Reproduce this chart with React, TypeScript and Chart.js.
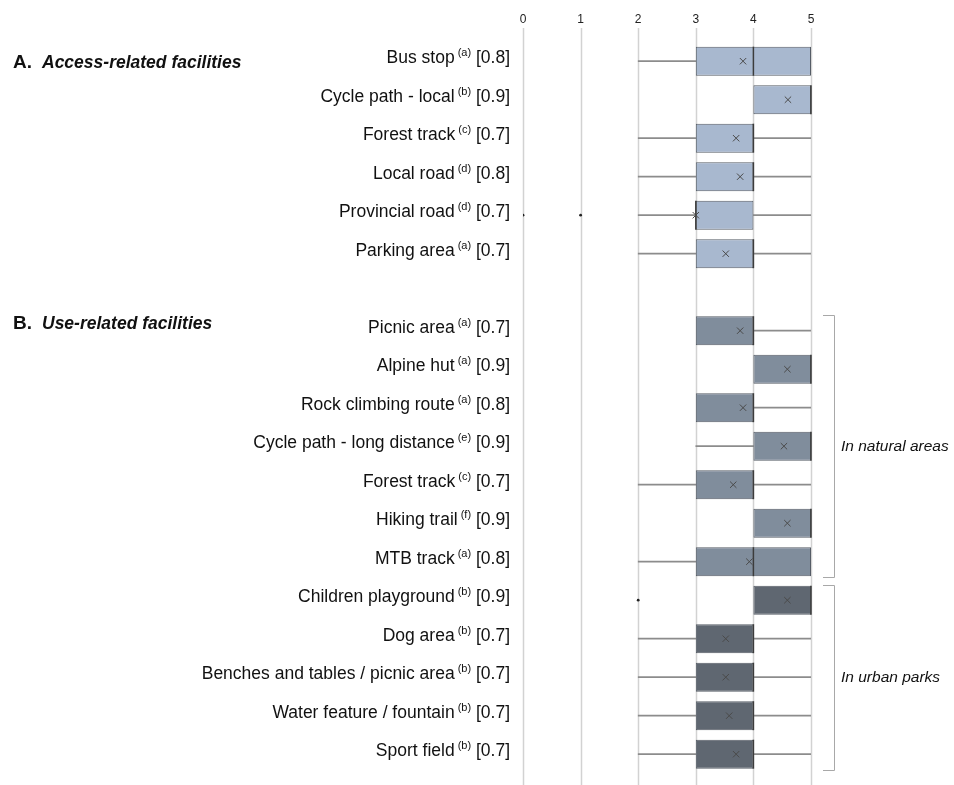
import React, { useEffect, useRef } from "react";
import { Chart, registerables } from "chart.js";
Chart.register(...registerables);

// ---- data ----
const facilityNames = [
  "Bus stop", "Cycle path - local", "Forest track", "Local road", "Provincial road", "Parking area", "",
  "Picnic area", "Alpine hut", "Rock climbing route", "Cycle path - long distance", "Forest track",
  "Hiking trail", "MTB track", "Children playground", "Dog area", "Benches and tables / picnic area",
  "Water feature / fountain", "Sport field",
];
const sourceRefs = ["(a)", "(b)", "(c)", "(d)", "(d)", "(a)", "", "(a)", "(a)", "(a)", "(e)", "(c)", "(f)", "(a)", "(b)", "(b)", "(b)", "(b)", "(b)"];
const reliability = ["[0.8]", "[0.9]", "[0.7]", "[0.8]", "[0.7]", "[0.7]", "", "[0.7]", "[0.9]", "[0.8]", "[0.9]", "[0.7]", "[0.9]", "[0.8]", "[0.9]", "[0.7]", "[0.7]", "[0.7]", "[0.7]"];
const rowGroup = ["access", "access", "access", "access", "access", "access", "", "natural", "natural", "natural", "natural", "natural", "natural", "natural", "urban", "urban", "urban", "urban", "urban"];

const whiskerLow = [2, 4, 2, 2, 2, 2, null, 3, 4, 3, 3, 2, 4, 2, 4, 2, 2, 2, 2];
const quartile1 = [3, 4, 3, 3, 3, 3, null, 3, 4, 3, 4, 3, 4, 3, 4, 3, 3, 3, 3];
const medians = [4, 5, 4, 4, 3, 4, null, 4, 5, 4, 5, 4, 5, 4, 5, 4, 4, 4, 4];
const quartile3 = [5, 5, 4, 4, 4, 4, null, 4, 5, 4, 5, 4, 5, 5, 5, 4, 4, 4, 4];
const whiskerHigh = [5, 5, 5, 5, 5, 5, null, 5, 5, 5, 5, 5, 5, 5, 5, 5, 5, 5, 5];
const means = [3.82, 4.6, 3.7, 3.77, 3.0, 3.52, null, 3.77, 4.59, 3.82, 4.53, 3.65, 4.59, 3.93, 4.59, 3.52, 3.52, 3.58, 3.7];
const outlierRows = [4, 4, 14];
const outlierValues = [0, 1, 2];

const xTicks = [0, 1, 2, 3, 4, 5];
const sectionHeaders = [
  { row: 0, letter: "A.", title: "Access-related facilities", dy: 2 },
  { row: 7, letter: "B.", title: "Use-related facilities", dy: -7 },
];
const brackets = [
  { from: 7, to: 13, text: "In natural areas" },
  { from: 14, to: 18, text: "In urban parks" },
];

const groupColors: Record<string, string> = {
  access: "#a8b8cf",
  natural: "#808d9c",
  urban: "#5f6771",
  "": "transparent",
};

const FONT = '"Liberation Sans", Arial, sans-serif';

export default function App() {
  const ref = useRef<HTMLCanvasElement | null>(null);

  useEffect(() => {
    if (!ref.current) return;
    const labels = facilityNames.map((n, i) => `${i}: ${n} ${sourceRefs[i]} ${reliability[i]}`);

    const lowerW = whiskerLow.map((v, i) => (v != null && quartile1[i] != null && v < (quartile1[i] as number) ? [v, quartile1[i]] : null));
    const upperW = whiskerHigh.map((v, i) => (v != null && quartile3[i] != null && v > (quartile3[i] as number) ? [quartile3[i], v] : null));
    const boxes = quartile1.map((v, i) => (v != null ? [v, quartile3[i]] : null));

    const overlay = {
      id: "overlay",
      beforeDatasetsDraw(chart: any) {
        const { ctx, scales } = chart;
        const x = scales.x;
        ctx.save();
        ctx.strokeStyle = "#d2d2d2";
        ctx.lineWidth = 1.5;
        xTicks.forEach((t) => {
          const px = Math.round(x.getPixelForValue(t)) + 0.5;
          ctx.beginPath();
          ctx.moveTo(px, 28);
          ctx.lineTo(px, chart.height);
          ctx.stroke();
        });
        ctx.restore();
      },
      afterDatasetDraw(chart: any, args: any) {
        if (args.index !== 3) return;
        const { ctx, scales } = chart;
        const meta = chart.getDatasetMeta(3);
        ctx.save();
        ctx.strokeStyle = "#3c3c3c";
        ctx.lineWidth = 1.5;
        medians.forEach((m, i) => {
          if (m == null) return;
          const bar = meta.data[i];
          if (!bar) return;
          const h = bar.height;
          const px = scales.x.getPixelForValue(m);
          const py = scales.y.getPixelForValue(i);
          ctx.beginPath();
          ctx.moveTo(px, py - h / 2);
          ctx.lineTo(px, py + h / 2);
          ctx.stroke();
        });
        ctx.restore();
      },
      afterDraw(chart: any) {
        const { ctx, scales } = chart;
        const y = scales.y;
        const band = Math.abs(y.getPixelForValue(1) - y.getPixelForValue(0));
        ctx.save();
        ctx.fillStyle = "#111";
        ctx.textBaseline = "middle";
        const rightX = 510;
        facilityNames.forEach((name, i) => {
          if (!name) return;
          const py = y.getPixelForValue(i) - 3;
          ctx.font = `17.5px ${FONT}`;
          ctx.textAlign = "right";
          ctx.fillText(reliability[i], rightX, py);
          const w1 = ctx.measureText(reliability[i] + " ").width;
          ctx.font = `11px ${FONT}`;
          const supX = rightX - w1;
          ctx.fillText(sourceRefs[i], supX, py - 5);
          const w2 = ctx.measureText(sourceRefs[i]).width;
          ctx.font = `17.5px ${FONT}`;
          ctx.fillText(name, supX - w2 - 3, py);
        });
        // section headers
        sectionHeaders.forEach((h) => {
          const py = y.getPixelForValue(h.row) + h.dy;
          ctx.textAlign = "left";
          ctx.font = `bold 19px ${FONT}`;
          ctx.fillText(h.letter, 13, py);
          ctx.font = `italic bold 17.5px ${FONT}`;
          ctx.fillText(h.title, 42, py);
        });
        // brackets
        ctx.strokeStyle = "#a8a8a8";
        ctx.lineWidth = 1;
        brackets.forEach((b) => {
          const top = Math.round(y.getPixelForValue(b.from) - band * 0.4) + 0.5;
          const bot = Math.round(y.getPixelForValue(b.to) + band * 0.4) + 0.5;
          const bx = 834.5;
          ctx.beginPath();
          ctx.moveTo(823, top);
          ctx.lineTo(bx, top);
          ctx.lineTo(bx, bot);
          ctx.lineTo(823, bot);
          ctx.stroke();
          ctx.font = `italic 15.5px ${FONT}`;
          ctx.textAlign = "left";
          ctx.fillStyle = "#111";
          ctx.fillText(b.text, 841, (top + bot) / 2);
        });
        ctx.restore();
      },
    };

    const chart = new Chart(ref.current, {
      type: "bar",
      data: {
        labels,
        datasets: [
          {
            type: "line",
            label: "Mean",
            indexAxis: "y",
            data: means as any,
            showLine: false,
            pointStyle: "crossRot",
            pointRadius: 4.5,
            pointBorderColor: "#4a4a4a",
            pointBorderWidth: 1,
            borderColor: "#4a4a4a",
            order: 0,
          } as any,
          {
            type: "line",
            label: "Outliers",
            indexAxis: "y",
            data: outlierRows.map((r, k) => ({ x: outlierValues[k], y: labels[r] })) as any,
            showLine: false,
            pointStyle: "circle",
            pointRadius: 1.4,
            pointBackgroundColor: "#222",
            pointBorderWidth: 0,
            order: 1,
          } as any,
          {
            label: "Lower whisker",
            data: lowerW as any,
            backgroundColor: "#8c8c8c",
            barThickness: 1,
            grouped: false,
            order: 3,
          } as any,
          {
            label: "Box",
            data: boxes as any,
            backgroundColor: rowGroup.map((g) => groupColors[g]),
            borderColor: "#555c66",
            borderWidth: 1,
            borderSkipped: false,
            categoryPercentage: 1,
            barPercentage: 0.753,
            grouped: false,
            order: 2,
          } as any,
          {
            label: "Upper whisker",
            data: upperW as any,
            backgroundColor: "#8c8c8c",
            barThickness: 1,
            grouped: false,
            order: 3,
          } as any,
        ],
      },
      options: {
        indexAxis: "y",
        animation: false,
        responsive: true,
        maintainAspectRatio: false,
        layout: { autoPadding: false, padding: { left: 523, right: 143, top: 0, bottom: 11.55 } },
        plugins: { legend: { display: false }, tooltip: { enabled: false } },
        scales: {
          x: {
            type: "linear",
            position: "top",
            min: 0,
            max: 5,
            afterBuildTicks: (s: any) => {
              s.ticks = xTicks.map((v) => ({ value: v }));
            },
            afterFit: (s: any) => {
              s.height = 41.95;
            },
            grid: { display: false },
            border: { display: false },
            ticks: { font: { family: FONT, size: 12 }, color: "#222", padding: 7.5 },
          },
          y: {
            type: "category",
            display: false,
            offset: true,
          },
        },
      },
      plugins: [overlay],
    });
    return () => chart.destroy();
  }, []);

  return (
    <div style={{ position: "fixed", left: 0, top: 0, width: 954, height: 785, background: "#fff" }}>
      <canvas ref={ref} />
    </div>
  );
}
